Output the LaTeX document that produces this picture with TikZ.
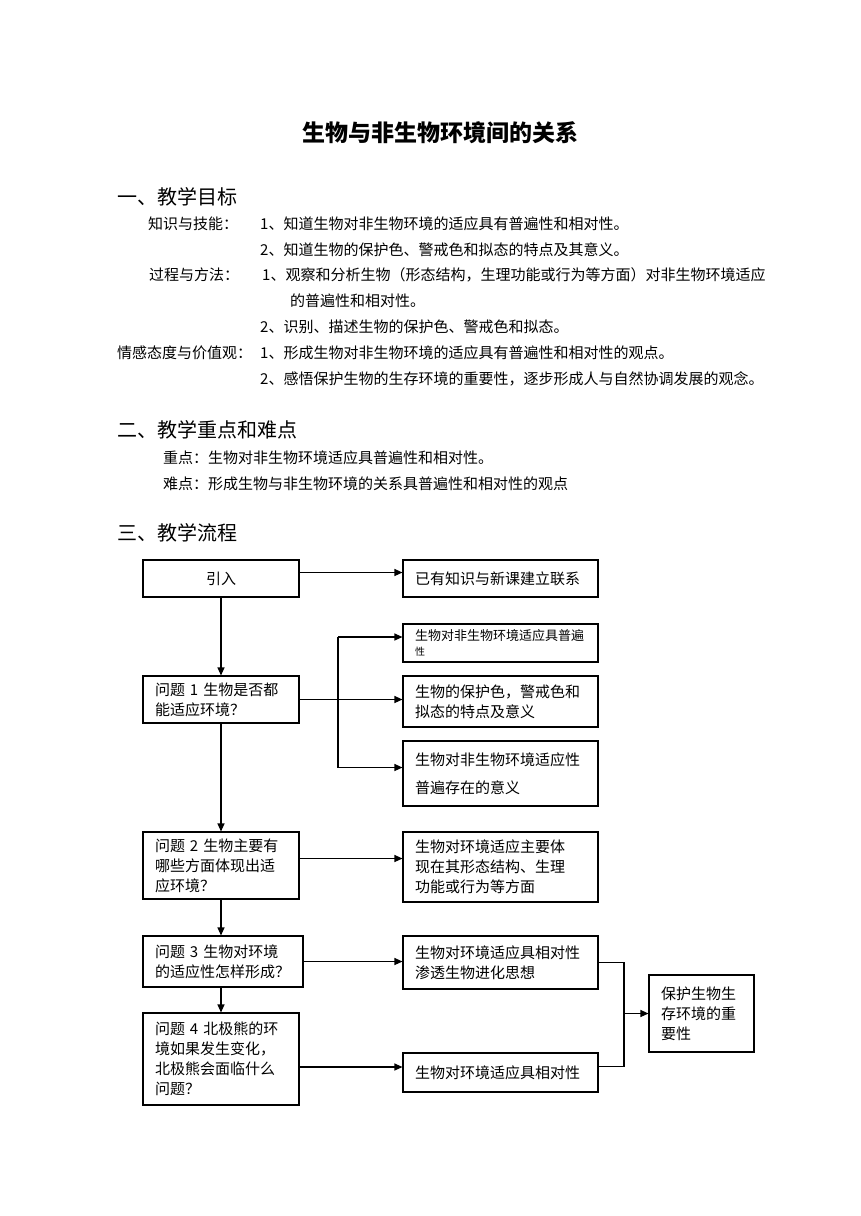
\documentclass[tikz,border=0pt]{standalone}
\usepackage{fontspec}
\setmainfont{Noto Sans CJK SC}
\usetikzlibrary{positioning,arrows.meta}

\begin{document}
\begin{tikzpicture}[x=1pt, y=-1pt,
    every node/.style={font=\fontsize{15}{20}\selectfont, inner sep=0pt},
    line/.style={line width=1.1pt},
    arr/.style={line width=1.1pt, -{Triangle[length=8pt,width=7pt]}},
    box/.style={draw, line width=1.1pt, inner xsep=12pt, inner ysep=0pt, align=left},
    lbox/.style={box, minimum width=156pt, text width=132pt},
    rbox/.style={box, minimum width=195pt, text width=171pt},
    txt/.style={anchor=west},
    head/.style={anchor=west, font=\fontsize{20}{24}\selectfont}]
\useasboundingbox (0,0) rectangle (860,1216);

% title and headings
\node[font=\fontsize{23}{26}\selectfont\bfseries] (title) at (440,133) {生物与非生物环境间的关系};
\node[head] (goal) at (117,197) {一、教学目标};
\node[txt] (skill) at (148,224) {知识与技能：};
\node[txt] (skill1) at (260,224) {1、知道生物对非生物环境的适应具有普遍性和相对性。};
\node[txt] (skill2) at (260,250) {2、知道生物的保护色、警戒色和拟态的特点及其意义。};
\node[txt] (method) at (149,275) {过程与方法：};
\node[txt] (method1) at (262,275) {1、观察和分析生物（形态结构，生理功能或行为等方面）对非生物环境适应};
\node[txt] (method1b) at (290,301) {的普遍性和相对性。};
\node[txt] (method2) at (260,327) {2、识别、描述生物的保护色、警戒色和拟态。};
\node[txt] (value) at (117,353) {情感态度与价值观：};
\node[txt] (value1) at (260,353) {1、形成生物对非生物环境的适应具有普遍性和相对性的观点。};
\node[txt] (value2) at (260,379) {2、感悟保护生物的生存环境的重要性，逐步形成人与自然协调发展的观念。};

\node[head] (focus) at (117,430) {二、教学重点和难点};
\node[txt] (key) at (163,458) {重点：生物对非生物环境适应具普遍性和相对性。};
\node[txt] (hard) at (163,484) {难点：形成生物与非生物环境的关系具普遍性和相对性的观点};

\node[head] (flow) at (117,533) {三、教学流程};

% flow chart
\node[lbox, align=center, minimum height=37pt] (intro) at (221,578.5) {引入};
\node[rbox, minimum height=37pt] (know) at (500.5,578.5) {已有知识与新课建立联系};
\node[lbox, minimum height=47pt] (q1) at (221,699.5) {问题 1 生物是否都\\能适应环境？};
\node[rbox, minimum height=38pt, font=\fontsize{13}{15}\selectfont] (univ) at (500.5,643)
    {生物对非生物环境适应具普遍\\{\fontsize{10}{10}\selectfont 性}};
\node[rbox, minimum height=51pt] (color) at (500.5,701.5) {生物的保护色，警戒色和\\拟态的特点及意义};
\node[rbox, minimum height=65pt, font=\fontsize{15}{28}\selectfont] (sense) at (500.5,773.5)
    {生物对非生物环境适应性\\普遍存在的意义};
\node[lbox, minimum height=67pt] (q2) at (221,865.5) {问题 2 生物主要有\\哪些方面体现出适\\应环境？};
\node[rbox, minimum height=70pt] (form) at (500.5,867) {生物对环境适应主要体\\现在其形态结构、生理\\功能或行为等方面};
\node[box, minimum width=160pt, text width=136pt, minimum height=51pt] (q3) at (223,961.5)
    {问题 3 生物对环境\\的适应性怎样形成？};
\node[rbox, minimum height=53pt] (rel1) at (500.5,962.5) {生物对环境适应具相对性\\渗透生物进化思想};
\node[lbox, minimum height=92pt] (q4) at (221,1059)
    {问题 4 北极熊的环\\境如果发生变化，\\北极熊会面临什么\\问题？};
\node[rbox, minimum height=39pt] (rel2) at (500.5,1072.5) {生物对环境适应具相对性};
\node[box, minimum width=105pt, text width=81pt, minimum height=77pt] (protect) at (701.5,1013.5)
    {保护生物生\\存环境的重\\要性};

\draw[arr] ([yshift=6pt]intro.east) -- ([yshift=6pt]know.west);
\draw[arr] (intro.south) -- (q1.north);
\draw[arr] (q1.east) -- (q1.east -| color.west);
\coordinate (split) at (338,702);
\draw[line] ([yshift=6pt]split |- univ.west) -- ([yshift=6pt]split |- sense.west);
\draw[arr] ([yshift=6pt]split |- univ.west) -- ([yshift=6pt]univ.west);
\draw[arr] ([yshift=6pt]split |- sense.west) -- ([yshift=6pt]sense.west);
\draw[arr] (q1.south) -- (q2.north);
\draw[arr] ([yshift=7pt]q2.east) -- ([yshift=7pt]q2.east -| form.west);
\draw[arr] (q2.south) -- (q2.south |- q3.north);
\draw[arr] (q2.south |- q3.south) -- (q2.south |- q4.north);
\draw[arr] (q3.east) -- (q3.east -| rel1.west);
\draw[arr] ([yshift=-8pt]q4.east) -- ([yshift=-8pt]q4.east -| rel2.west);
\coordinate (merge) at (624,1013.5);
\draw[line] (rel1.east) -| (merge) |- ([yshift=6pt]rel2.east);
\draw[arr] (merge) -- (protect.west);
\end{tikzpicture}
\end{document}
